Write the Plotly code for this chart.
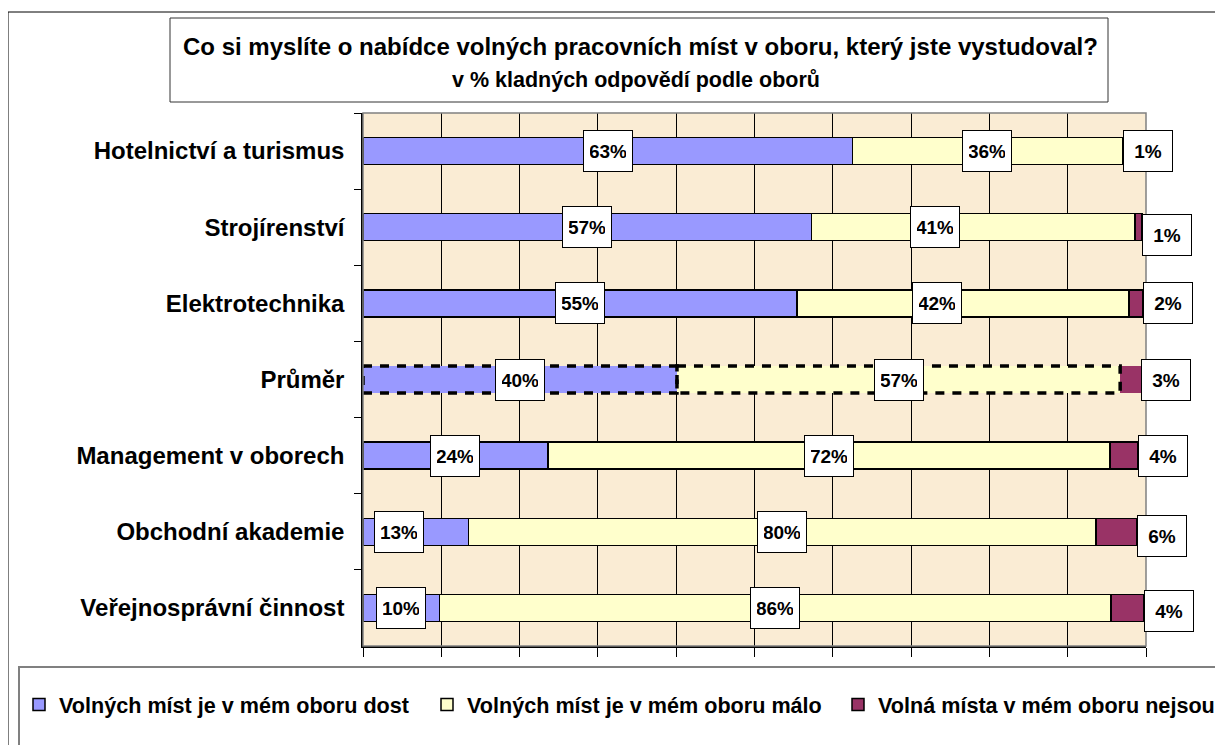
import plotly.graph_objects as go

# ---- data ----
categories = ["Hotelnictví a turismus", "Strojírenství", "Elektrotechnika", "Průměr",
              "Management v oborech", "Obchodní akademie", "Veřejnosprávní činnost"]
dost = [62.5, 57.3, 55.4, 40.1, 23.6, 13.5, 9.8]
malo = [34.5, 41.3, 42.4, 56.6, 71.8, 80.1, 85.7]
nejsou = [0.0, 0.9, 1.8, 2.6, 3.6, 5.2, 4.2]
dost_labels = ["63%", "57%", "55%", "40%", "24%", "13%", "10%"]
malo_labels = ["36%", "41%", "42%", "57%", "72%", "80%", "86%"]
nejsou_labels = ["1%", "1%", "2%", "3%", "4%", "6%", "4%"]
series_names = ["Volných míst je v mém oboru dost", "Volných míst je v mém oboru málo",
                "Volná místa v mém oboru nejsou"]
title_text = "Co si myslíte o nabídce volných pracovních míst v oboru, který jste vystudoval?"
subtitle_text = "v % kladných odpovědí podle oborů"
avg_name = "Průměr"

# ---- style ----
FONT = "Liberation Sans, Arial, sans-serif"
colors = ["#9999FF", "#FFFFCC", "#993366"]
W, H = 1223, 745
OFF = 8  # page body margin offset
ml, mr, mt, mb = 363 - OFF, W - (1146 - OFF), 113 - OFF, H - (646 - OFF)
pw, ph = W - ml - mr, H - mt - mb


def px_x(p):
    return (p - OFF - ml) / pw


def px_y(p):
    return (H - mb - (p - OFF)) / ph


line_w = [0 if c == avg_name else 1.5 for c in categories]

fig = go.Figure()
series = [dost, malo, nejsou]
legends = ["legend", "legend2", "legend3"]
for vals, name, col, lg in zip(series, series_names, colors, legends):
    fig.add_trace(go.Bar(
        y=categories, x=vals, name=name, orientation="h",
        marker=dict(color=col, line=dict(color="black", width=line_w)),
        legend=lg, hoverinfo="skip",
    ))

# label offsets (pixels) where labels were moved in the original
dost_shift = [0, 0, 0, 0, 0, -17, 0]
malo_shift = [0, -38, -26, 0, 0, 0, 0]
nejsou_yshift = [0, -8, 0, 0, 0, -4, -3]

box = dict(font=dict(family=FONT, size=19, color="black"), bgcolor="white",
           bordercolor="black", borderwidth=1, borderpad=6, width=36, height=28,
           showarrow=False, yref="y", xref="x", align="center", valign="middle")

for i, cat in enumerate(categories):
    fig.add_annotation(x=dost[i] / 2, y=cat, text="<b>%s</b>" % dost_labels[i],
                       xanchor="center", xshift=dost_shift[i], **box)
    fig.add_annotation(x=dost[i] + malo[i] / 2, y=cat, text="<b>%s</b>" % malo_labels[i],
                       xanchor="center", xshift=malo_shift[i], **box)
    fig.add_annotation(x=dost[i] + malo[i] + nejsou[i], y=cat,
                       text="<b>%s</b>" % nejsou_labels[i],
                       xanchor="left", yshift=nejsou_yshift[i], **box)

# dashed outline for the average bar
bar_half = 0.355 / 2
ai = categories.index(avg_name)
dash_line = dict(color="black", width=3.5, dash="9px,8px")
fig.add_shape(type="rect", xref="x", yref="y", x0=0, x1=dost[ai],
              y0=ai - bar_half, y1=ai + bar_half, line=dash_line, layer="above")
fig.add_shape(type="rect", xref="x", yref="y", x0=dost[ai], x1=dost[ai] + malo[ai],
              y0=ai - bar_half, y1=ai + bar_half, line=dash_line, layer="above")

# plot area border (grey top/right)
fig.add_shape(type="rect", xref="x domain", yref="y domain", x0=0, x1=1, y0=0, y1=1,
              line=dict(color="#808080", width=1.5), layer="above")
# outer chart frame
fig.add_shape(type="rect", xref="paper", yref="paper", x0=px_x(8), x1=px_x(1250),
              y0=px_y(770), y1=px_y(12), line=dict(color="black", width=1), layer="below")
# title box
fig.add_shape(type="rect", xref="paper", yref="paper", x0=px_x(170), x1=px_x(1108),
              y0=px_y(102), y1=px_y(18), line=dict(color="#333333", width=1), layer="below")
# legend box
fig.add_shape(type="rect", xref="paper", yref="paper", x0=px_x(19), x1=px_x(1250),
              y0=px_y(770), y1=px_y(667), line=dict(color="#808080", width=2), layer="below")

fig.add_annotation(xref="paper", yref="paper", x=px_x(640), y=px_y(46),
                   text="<b>%s</b>" % title_text, showarrow=False,
                   font=dict(family=FONT, size=24, color="black"), xanchor="center", yanchor="middle")
fig.add_annotation(xref="paper", yref="paper", x=px_x(636), y=px_y(80),
                   text="<b>%s</b>" % subtitle_text, showarrow=False,
                   font=dict(family=FONT, size=21.5, color="black"), xanchor="center", yanchor="middle")

leg_common = dict(orientation="h",
                  font=dict(family=FONT, size=21.6, color="black", weight="bold"),
                  bgcolor="rgba(0,0,0,0)", yanchor="middle", y=px_y(705), xanchor="left",
                  itemwidth=30)
fig.update_layout(
    legend=dict(x=px_x(19), **leg_common),
    legend2=dict(x=px_x(427), **leg_common),
    legend3=dict(x=px_x(838), **leg_common),
)

fig.update_layout(
    width=W, height=H, barmode="stack", bargap=0.645,
    margin=dict(l=ml, r=mr, t=mt, b=mb, autoexpand=False),
    paper_bgcolor="white", plot_bgcolor="#FAECD4",
    font=dict(family=FONT, color="black"),
    xaxis=dict(range=[0, 100], tickmode="linear", tick0=0, dtick=10, showticklabels=False,
               ticks="outside", ticklen=9, tickcolor="black", tickwidth=1,
               showgrid=True, gridcolor="black", gridwidth=1,
               showline=True, linecolor="black", linewidth=1.5, zeroline=False, fixedrange=True),
    yaxis=dict(autorange="reversed", ticks="outside", tickson="boundaries", ticklen=7,
               tickcolor="black", showline=True, linecolor="black", linewidth=1.5,
               showgrid=False, ticklabelstandoff=12,
               tickfont=dict(family=FONT, size=24, color="black", weight="bold"),
               fixedrange=True),
    showlegend=True,
)

fig.write_html("out.html")
